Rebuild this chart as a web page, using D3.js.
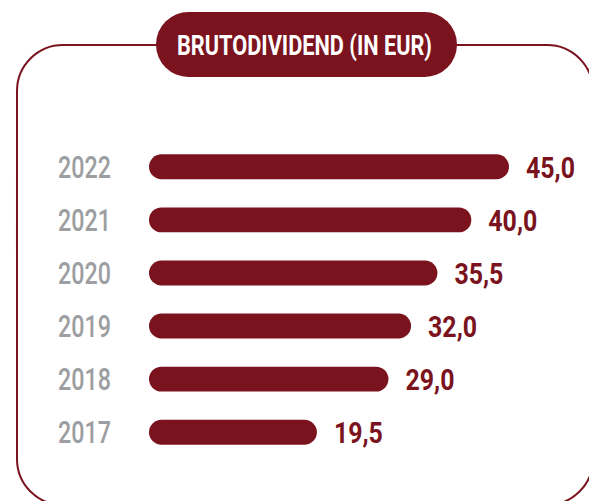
<!DOCTYPE html>
<meta charset="utf-8">
<head>
  <title>Brutodividend</title>
</head>
<style>
body { margin: 0; background: #fff; }
text { font-family: Roboto, "Liberation Sans", sans-serif; }
.jaar { fill: #9c9ea1; font-size: 31px; font-weight: 500; }
.waarde { fill: #7a131e; font-size: 30px; font-weight: bold; }
</style>
<body>
<script src="https://cdn.jsdelivr.net/npm/d3@7"></script>
<script>
  var jaren = ["2022", "2021", "2020", "2019", "2018", "2017"];
  var waarden = [45.0, 40.0, 35.5, 32.0, 29.0, 19.5];
  var titel = "BRUTODIVIDEND (IN EUR)";

  var width = 589,
      height = 501,
      rood = "#7a131e";

  var svg = d3.select("body").append("svg")
      .attr("width", width)
      .attr("height", height);

  // kader met afgeronde hoeken
  svg.append("rect")
      .attr("x", 17).attr("y", 45)
      .attr("width", 576).attr("height", 460)
      .attr("rx", 46).attr("ry", 46)
      .attr("fill", "none")
      .attr("stroke", rood)
      .attr("stroke-width", 2);

  // titel-pil
  svg.append("rect")
      .attr("x", 156).attr("y", 12)
      .attr("width", 301).attr("height", 65)
      .attr("rx", 32.5)
      .attr("fill", rood);
  svg.append("text")
      .attr("x", 177).attr("y", 55)
      .attr("fill", "#fff")
      .attr("textLength", 255)
      .attr("lengthAdjust", "spacingAndGlyphs")
      .style("font-size", "28px")
      .style("font-weight", "bold")
      .text(titel);

  var x = d3.scaleLinear().domain([0, 45]).range([170, 509]);
  var y = d3.scaleBand().domain(jaren).range([140, 459]).paddingInner(0.53).paddingOuter(0.27);

  var balkStart = 149;

  var g = svg.append("g");

  g.selectAll(".balk")
      .data(waarden)
      .enter().append("rect")
      .attr("class", "balk")
      .attr("x", balkStart)
      .attr("y", function(d, i) { return y(jaren[i]); })
      .attr("width", function(d) { return x(d) - balkStart; })
      .attr("height", y.bandwidth())
      .attr("rx", y.bandwidth() / 2)
      .attr("fill", rood);

  // smal maken: natuurlijke breedte maal factor
  function smal(sel, factor) {
    sel.each(function() {
      var w = this.getComputedTextLength();
      d3.select(this).attr("textLength", w * factor).attr("lengthAdjust", "spacingAndGlyphs");
    });
  }

  g.selectAll(".jaar")
      .data(jaren)
      .enter().append("text")
      .attr("class", "jaar")
      .attr("x", 58)
      .attr("y", function(d) { return y(d) + y.bandwidth() / 2 + 11; })
      .text(function(d) { return d; })
      .call(smal, 0.75);

  g.selectAll(".waarde")
      .data(waarden)
      .enter().append("text")
      .attr("class", "waarde")
      .attr("x", function(d) { return x(d) + 17; })
      .attr("y", function(d, i) { return y(jaren[i]) + y.bandwidth() / 2 + 11; })
      .text(function(d) { return d3.format(".1f")(d).replace(".", ","); })
      .call(smal, 0.83);
</script>
</body>
